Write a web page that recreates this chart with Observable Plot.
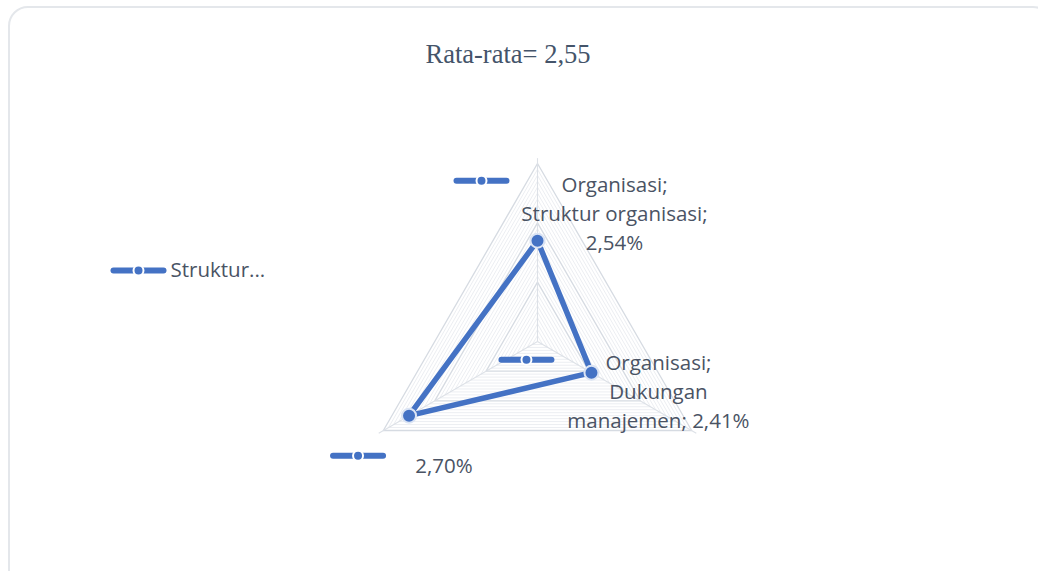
<!DOCTYPE html>
<html><head><meta charset="utf-8">
<script src="https://cdn.jsdelivr.net/npm/d3@7"></script>
<script src="https://cdn.jsdelivr.net/npm/@observablehq/plot@0.6"></script>
<style>
html,body{margin:0;padding:0;background:#fff;}
#card{position:relative;width:1038px;height:571px;overflow:hidden;background:#fff;}
#frame{position:absolute;left:8px;top:6px;width:1045px;height:590px;border:2px solid #e4e7eb;border-radius:20px;box-sizing:border-box;}
#title{position:absolute;left:0;width:1016px;top:39px;text-align:center;font-family:"Liberation Serif","Times New Roman",serif;font-size:26.5px;color:#44546a;z-index:2;}
#plot{position:absolute;left:0;top:0;z-index:1;}
</style></head>
<body><div id="card"><div id="frame"></div><div id="title"></div><div id="plot"></div></div>
<script>
// ---- data ----
const title = "Rata-rata= 2,55";
const seriesName = "Organisasi";
const categories = ["Struktur organisasi", "Dukungan manajemen", ""];
const values = [2.54, 2.41, 2.70];
const valueLabels = ["2,54%", "2,41%", "2,70%"];
const legendLabel = "Struktur...";
const rMin = 2.2, rMax = 2.8, majorStep = 0.2, minorStep = 0.02;

// ---- layout ----
const W = 1038, H = 571, cx = 537, cy = 341, R = 178;
const blue = "#4472c4", textColor = "#4a5364";
const font = "'Open Sans', 'Noto Sans', sans-serif", fs = 20.5;
const n = categories.length;
const ang = i => Math.PI / 2 - i * 2 * Math.PI / n;
const rad = v => (v - rMin) / (rMax - rMin);
const pos = (v, i) => ({x: rad(v) * Math.cos(ang(i)), y: rad(v) * Math.sin(ang(i))});

// grid
const levels = d3.range(Math.round((rMax - rMin) / minorStep)).map(k => +(rMin + (k + 1) * minorStep).toFixed(4));
const gridPts = [];
for (const lv of levels) {
  const major = Math.abs(Math.round((lv - rMin) / majorStep) * majorStep - (lv - rMin)) < 1e-6;
  for (let i = 0; i <= n; i++) {
    const p = pos(lv, i % n);
    gridPts.push({...p, level: lv, major});
  }
}
const spokes = categories.map((c, i) => { const p = pos(rMax, i); return {x1: 0, y1: 0, x2: p.x * 1.03, y2: p.y * 1.03}; });

// series
const pts = values.map((v, i) => ({...pos(v, i), v, i, cat: categories[i]}));
const loop = [...pts, pts[0]];

// data labels
const labelText = pts.map((p, i) => {
  if (i === 0) return `${seriesName};\n${categories[i]};\n${valueLabels[i]}`;
  if (i === 1) return `${seriesName};\nDukungan\nmanajemen; ${valueLabels[i]}`;
  return valueLabels[i];
});
const labelOff = [[77, -29], [67, 17], [35, 48]];
const keyOff = [[-56, -60], [-65, -13], [-51, 40]];

// legend keys (px offsets converted to data units)
const px2 = (X, Y) => ({x: (X - cx) / R, y: (cy - Y) / R});
const keyCenters = pts.map((p, i) => ({x: p.x + keyOff[i][0] / R, y: p.y - keyOff[i][1] / R}));
const legendCenter = px2(138, 270);
keyCenters.push(legendCenter);
const keyLines = [];
keyCenters.forEach((k, j) => {
  keyLines.push({x: k.x - 25 / R, y: k.y, k: j});
  keyLines.push({x: k.x + 25 / R, y: k.y, k: j});
});

document.getElementById("title").textContent = title;

const chart = Plot.plot({
  width: W, height: H,
  margin: 0,
  x: {domain: [-cx / R, (W - cx) / R], axis: null},
  y: {domain: [-(H - cy) / R, cy / R], axis: null},
  style: {background: "transparent", overflow: "visible"},
  marks: [
    Plot.line(gridPts.filter(d => !d.major), {x: "x", y: "y", z: "level", stroke: "#eceef2", strokeWidth: 1}),
    Plot.line(gridPts.filter(d => d.major), {x: "x", y: "y", z: "level", stroke: "#d6dbe2", strokeWidth: 1.3}),
    Plot.link(spokes, {x1: "x1", y1: "y1", x2: "x2", y2: "y2", stroke: "#dde1e7", strokeWidth: 1.1}),
    Plot.line(loop, {x: "x", y: "y", stroke: blue, strokeWidth: 5.5, strokeLinejoin: "round"}),
    Plot.dot(pts, {x: "x", y: "y", r: 7, fill: blue, stroke: "#dbe4f4", strokeWidth: 2}),
    Plot.line(keyLines, {x: "x", y: "y", z: "k", stroke: blue, strokeWidth: 6, strokeLinecap: "round"}),
    Plot.dot(keyCenters, {x: "x", y: "y", r: 5, fill: blue, stroke: "#ffffff", strokeWidth: 2}),
    Plot.text(pts, {x: "x", y: "y", text: (d, i) => labelText[i],
      fill: textColor, fontSize: fs, lineHeight: 29 / fs,
      fontFamily: font, textAnchor: "middle",
      render: (index, scales, values, dims, ctx, next) => {
        const g = next(index, scales, values, dims, ctx);
        d3.select(g).selectAll("text").each(function(_, j) {
          const i = index[j];
          d3.select(this).attr("transform", `translate(${values.x[i] + labelOff[i][0]},${values.y[i] + labelOff[i][1]})`);
        });
        return g;
      }}),
    Plot.text([legendCenter], {x: "x", y: "y", text: () => legendLabel, dx: 32, textAnchor: "start",
      fill: textColor, fontSize: fs, fontFamily: font})
  ]
});
document.getElementById("plot").appendChild(chart);
</script>
</body></html>
